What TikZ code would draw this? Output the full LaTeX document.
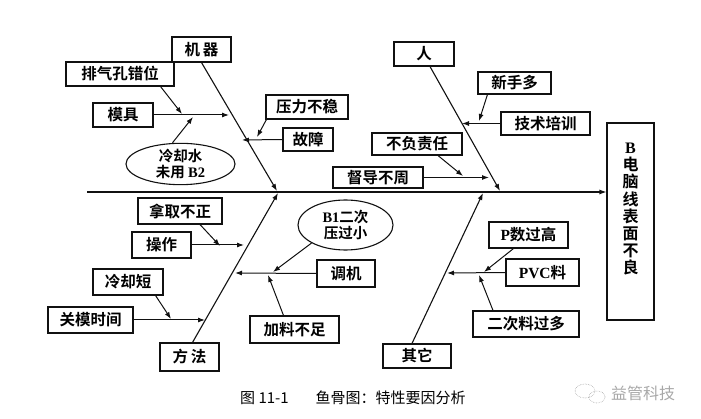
\documentclass[tikz,border=0pt]{standalone}
\usepackage{fontspec}
\setmainfont{Liberation Serif}
\newfontfamily\cjk{Noto Sans CJK SC}[BoldFont={Noto Sans CJK SC Bold}]
\newfontfamily\latb{Liberation Serif}
\usetikzlibrary{arrows.meta,positioning,shapes.geometric,calc}
\definecolor{Ink}{HTML}{111111}
\definecolor{Mark}{HTML}{A8A8A8}
\newcommand{\lt}[1]{{\latb\bfseries #1}}

\begin{document}
\begin{tikzpicture}[
  x=1pt, y=-1pt,
  box/.style={
    draw=Ink,
    line width=1.1pt,
    minimum height=24,
    inner sep=1pt,
    align=center,
    font=\cjk\bfseries\fontsize{15.5}{17}\selectfont
  },
  oval/.style={box,shape=ellipse,inner sep=0pt,font=\cjk\bfseries\fontsize{14.5}{15.5}\selectfont},
  bone/.style={-{Latex[length=7pt,width=5pt]},line width=1.1pt,color=Ink},
  twig/.style={-{Latex[length=7pt,width=5pt]},line width=1pt,color=Ink}
]
\useasboundingbox (0,0) rectangle (701,419);

% effect and spine
\node[box,minimum width=47,minimum height=197,font=\cjk\bfseries\fontsize{16}{17.2}\selectfont]
  (effect) at (630.5,221.5) {\lt{B}\\电\\脑\\线\\表\\面\\不\\良\\[9pt]};
\coordinate (tail) at (87,192);
\draw[bone] (tail) -- (tail -| effect.west);

% main causes
\node[box,minimum width=59,minimum height=25] (machine) at (201.5,49.5) {机\,器};
\node[box,minimum width=60] (people) at (424,54) {人};
\node[box,minimum width=59,minimum height=28] (method) at (189.5,357) {方\,法};
\node[box,minimum width=68] (other) at (417,356) {其它};
\coordinate (mtip) at (277,191);
\coordinate (ptip) at (500,191);
\coordinate (etip) at (278,193);
\coordinate (otip) at (483,193);
\draw[bone] (machine.south) -- (mtip);
\draw[bone] ($(people.south)+(6,0)$) -- (ptip);
\draw[bone] ($(method.north)+(3,0)$) -- (etip);
\draw[bone] ($(other.north)+(-5,0)$) -- (otip);

% machine
\node[box,minimum width=60] (mold) at (123,115) {模具};
\node[box,minimum width=108] (vent) at (120,74) {排气孔错位};
\node[oval,minimum width=109,minimum height=40] (water) at (180.5,164) {冷却水\\未用 \lt{B2}};
\node[box,minimum width=82] (pressure) at (307,107) {压力不稳};
\node[box,minimum width=50,minimum height=23] (fault) at (308,139.5) {故障};
\coordinate (m1) at (229,115);
\coordinate (m2) at (182,114);
\coordinate (m3) at (193,117);
\coordinate (m4) at (242,140);
\coordinate (m5) at (257,137);
\draw[twig] (mold.east) -- (m1);
\draw[twig] ($(vent.south east)+(-14,0)$) -- (m2);
\draw[twig] ($(water.north)+(-8,0)$) -- (m3);
\draw[twig] (fault.west) -- (m4);
\draw[twig] ($(pressure.south west)+(1,0)$) -- (m5);

% people
\node[box,minimum width=73,minimum height=22] (novice) at (514.5,83) {新手多};
\node[box,minimum width=89,minimum height=23] (training) at (545.5,123.5) {技术培训};
\node[box,minimum width=90,minimum height=22] (duty) at (417,144) {不负责任};
\node[box,minimum width=90,minimum height=21] (supervise) at (378,177.5) {督导不周};
\coordinate (p1) at (462,123.5);
\coordinate (p2) at (479,121);
\coordinate (p3) at (489,177.5);
\coordinate (p4) at (463,176);
\draw[twig] (training.west) -- (p1);
\draw[twig] ($(novice.south west)+(10,0)$) -- (p2);
\draw[twig] (supervise.east) -- (p3);
\draw[twig] ($(duty.south)+(21,0)$) -- (p4);

% method
\node[box,minimum width=84,minimum height=26] (grab) at (180,211) {拿取不正};
\node[box,minimum width=59,minimum height=26] (operate) at (161.5,245) {操作};
\node[box,minimum width=70,minimum height=26] (coolshort) at (128,282) {冷却短};
\node[box,minimum width=85,minimum height=26] (closetime) at (90.5,320) {关模时间};
\node[oval,minimum width=95,minimum height=50] (second) at (345.5,225) {\lt{B1}二次\\压过小};
\node[box,minimum width=58,minimum height=27] (adjust) at (346,273.5) {调机};
\node[box,minimum width=89,minimum height=27] (feed) at (294.5,329.5) {加料不足};
\coordinate (e1) at (244,245);
\coordinate (e2) at (220,246);
\coordinate (e3) at (205,320);
\coordinate (e4) at (171,319);
\coordinate (e5) at (235,273);
\coordinate (e6) at (273,272);
\coordinate (e7) at (268,275);
\draw[twig] (operate.east) -- (e1);
\draw[twig] ($(grab.south)+(20,0)$) -- (e2);
\draw[twig] (closetime.east) -- (e3);
\draw[twig] ($(coolshort.south east)+(-8,0)$) -- (e4);
\draw[twig] (adjust.west) -- (e5);
\draw[twig] (second.south west) -- (e6);
\draw[twig] ($(feed.north)+(-11,0)$) -- (e7);

% other
\node[box,minimum width=79,minimum height=26] (pnum) at (528.5,235) {\lt{P}数过高};
\node[box,minimum width=73,minimum height=27] (pvc) at (542.5,272.5) {\lt{PVC}料};
\node[box,minimum width=106,minimum height=26] (regrind) at (526,324) {二次料过多};
\coordinate (o1) at (447,273);
\coordinate (o2) at (484,272);
\coordinate (o3) at (479,275);
\draw[twig] (pvc.west) -- (o1);
\draw[twig] ($(pnum.south)+(-15,0)$) -- (o2);
\draw[twig] ($(regrind.north)+(-33,0)$) -- (o3);

% caption and mark
\node[anchor=west,inner sep=0,font=\cjk\fontsize{15}{16}\selectfont] (caption) at (240,398)
  {图 11-1\hspace{1.8em}鱼骨图：特性要因分析};
\node[anchor=west,inner sep=0,text=Mark,font=\cjk\fontsize{16}{17}\selectfont] (mark) at (611,393) {益管科技};
\draw[Mark,densely dotted,line width=0.6pt] (585,391) ellipse (10 and 7);
\draw[Mark,densely dotted,line width=0.6pt] (597,397) ellipse (8 and 6);
\end{tikzpicture}
\end{document}
